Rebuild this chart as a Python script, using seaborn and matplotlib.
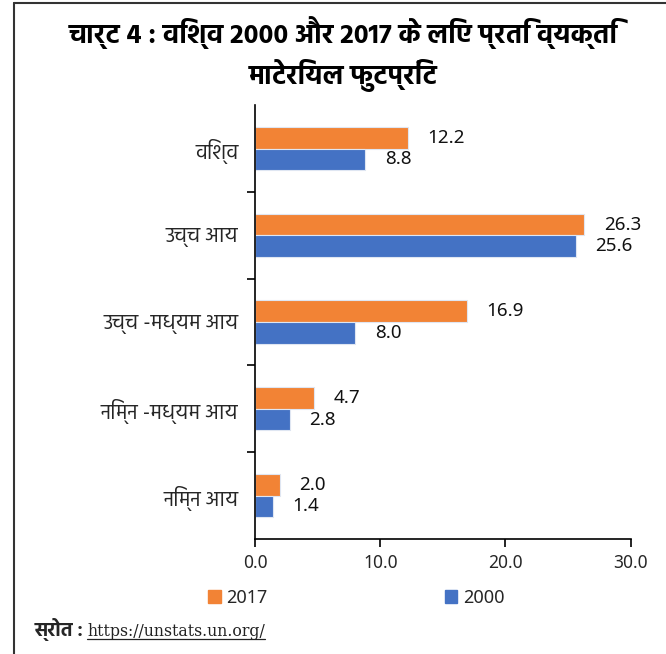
import matplotlib
matplotlib.use("Agg")
import matplotlib.pyplot as plt
import seaborn as sns
import pandas as pd
from matplotlib.patches import Patch
from matplotlib.lines import Line2D

# data
categories = ["विश्व", "उच्च आय", "उच्च -मध्यम आय", "निम्न -मध्यम आय", "निम्न आय"]
values_2017 = [12.2, 26.3, 16.9, 4.7, 2.0]
values_2000 = [8.8, 25.6, 8.0, 2.8, 1.4]
series = ["2017", "2000"]
x_ticks = [0, 10, 20, 30]
title = "चार्ट 4 : विश्व 2000 और 2017 के लिए प्रति व्यक्ति\nमाटेरियल फुटप्रिंट"

sns.set_style("white")
deva = ["Hind", "DejaVu Sans"]
latin = ["Noto Sans", "DejaVu Sans"]
plt.rcParams["font.family"] = deva

df = pd.DataFrame({
    "cat": categories * 2,
    "val": values_2017 + values_2000,
    "year": ["2017"] * len(categories) + ["2000"] * len(categories),
})
colors = {"2017": "#F28335", "2000": "#4472C4"}

fig = plt.figure(figsize=(6.66, 6.54), dpi=100)
ax = fig.add_axes([0.383, 0.176, 0.564, 0.663])
sns.barplot(data=df, y="cat", x="val", hue="year", hue_order=series,
            palette=colors, orient="h", width=0.5, ax=ax, legend=False,
            edgecolor="#dfe6f2", linewidth=0.8, saturation=1)

for cont in ax.containers:
    ax.bar_label(cont, fmt="%.1f", padding=14, fontsize=13.5, color="#111111",
                 family=latin)

ax.set_xlim(0, 30)
ax.set_ylim(4.5, -0.5)
ax.set_xticks(x_ticks)
ax.set_xticklabels([f"{t:.1f}" for t in x_ticks], fontsize=12.5, family=latin)
ax.set_yticks(range(len(categories)))
ax.set_yticklabels(categories, fontsize=15)
ax.set_yticks([i + 0.5 for i in range(len(categories) - 1)], minor=True)
ax.tick_params(axis="y", which="major", length=0, pad=12)
ax.tick_params(axis="y", which="minor", length=6, width=1.2, color="black", left=True)
ax.tick_params(axis="x", length=6, width=1.2, color="black", bottom=True, pad=5)
ax.set_xlabel("")
ax.set_ylabel("")
for s in ["top", "right"]:
    ax.spines[s].set_visible(False)
for s in ["left", "bottom"]:
    ax.spines[s].set_color("black")
    ax.spines[s].set_linewidth(1.2)

fig.text(0.515, 0.918, title, ha="center", va="center", fontsize=19.5,
         fontweight="bold", linespacing=1.4, color="black")

handles = [Patch(color=colors[s], label=s) for s in series]
fig.legend(handles=handles, loc="center", bbox_to_anchor=(0.535, 0.086), ncol=2,
           frameon=False, handlelength=0.7, handleheight=0.7,
           handletextpad=0.3, columnspacing=9.8, prop={"family": latin, "size": 13})

fig.text(0.052, 0.027, "स्रोत :", fontsize=14, fontweight="bold", va="baseline")
url = fig.text(0.131, 0.027, "https://unstats.un.org/", fontsize=11.3,
               family="DejaVu Serif", va="baseline", color="#222222")
fig.canvas.draw()
bb = url.get_window_extent().transformed(fig.transFigure.inverted())
fig.add_artist(Line2D([bb.x0, bb.x1], [bb.y0 + 0.002, bb.y0 + 0.002],
                      transform=fig.transFigure, color="#222222", lw=0.9))

# frame lines (top and left)
fig.add_artist(Line2D([0.021, 1.0], [0.995, 0.995], transform=fig.transFigure,
                      color="#333333", lw=1.5))
fig.add_artist(Line2D([0.021, 0.021], [0.0, 0.995], transform=fig.transFigure,
                      color="#333333", lw=1.5))

fig.savefig("out.png", dpi=100)
